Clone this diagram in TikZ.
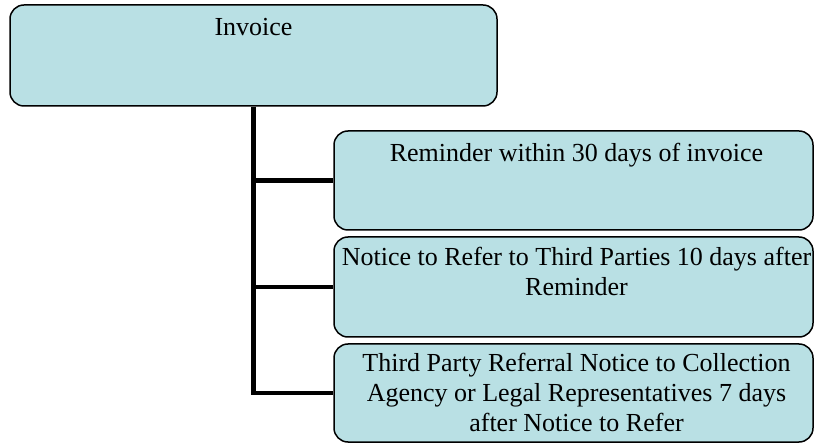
\documentclass[tikz,border=0pt]{standalone}
\usepackage{fontspec}
\setmainfont{Liberation Serif}
\definecolor{boxfill}{RGB}{185,224,228}
\begin{document}
\begin{tikzpicture}[x=1pt,y=-1pt,
  box/.style={draw=black, line width=1.5pt, fill=boxfill, rounded corners=14pt, inner sep=0pt},
  lbl/.style={font=\fontsize{26}{30}\selectfont, align=center, anchor=north, inner sep=0pt},
  conn/.style={draw=black, line width=4.5pt}]
\useasboundingbox (0,0) rectangle (814,443);
\node[box, minimum width=487pt, minimum height=101pt] (inv) at (253.5,55.5) {};
\node[box, minimum width=479pt, minimum height=99pt] (rem) at (573.5,180.5) {};
\node[box, minimum width=479pt, minimum height=100pt] (ntc) at (573.5,287) {};
\node[box, minimum width=479pt, minimum height=98pt] (thp) at (573.5,393) {};
\node[lbl] (invt) at ([yshift=-13.5pt]inv.north) {Invoice};
\node[lbl] (remt) at ([xshift=3pt,yshift=-13pt]rem.north) {Reminder within 30 days of invoice};
\node[lbl] (ntct) at ([xshift=3pt,yshift=-11pt]ntc.north) {Notice to Refer to Third Parties 10 days after\\Reminder};
\node[lbl] (thpt) at ([xshift=3pt,yshift=-10pt]thp.north) {Third Party Referral Notice to Collection\\Agency or Legal Representatives 7 days\\after Notice to Refer};
\draw[conn] (inv.south) |- (thp.west);
\draw[conn] (inv.south |- rem.west) -- (rem.west);
\draw[conn] (inv.south |- ntc.west) -- (ntc.west);
\end{tikzpicture}
\end{document}
